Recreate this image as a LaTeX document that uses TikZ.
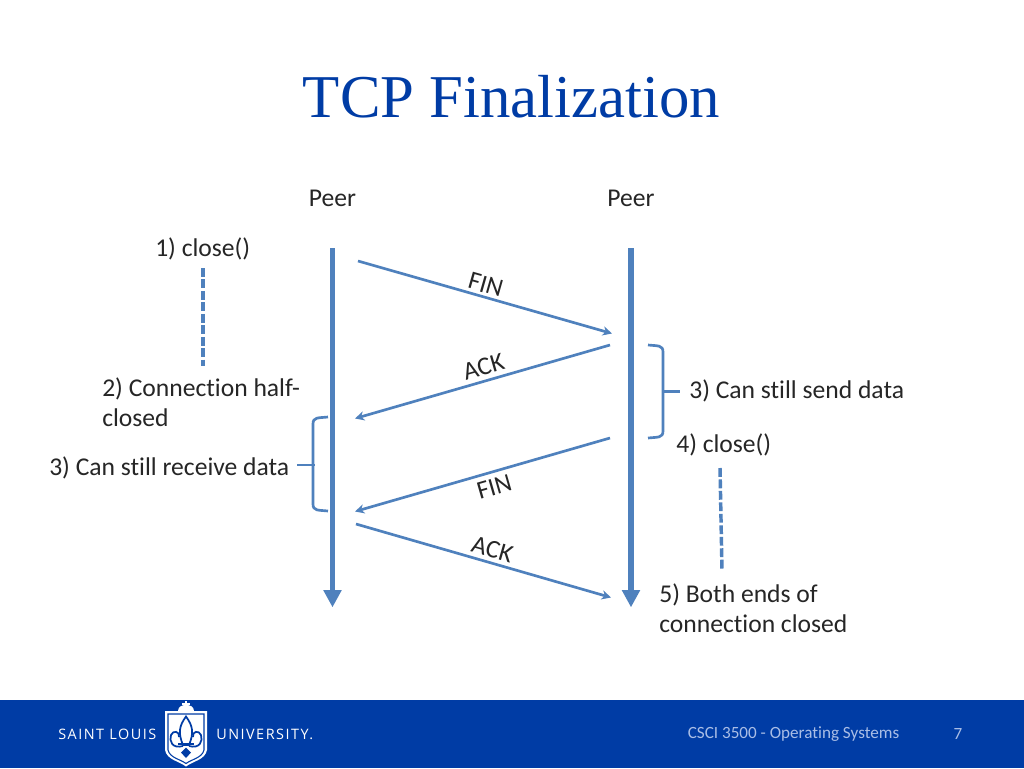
\documentclass[tikz,border=0pt]{standalone}
\usepackage{fontspec}
\setmainfont[Ligatures=NoCommon]{Carlito}
\newfontfamily\titlefont{Liberation Serif}
\newfontfamily\logofont[LetterSpace=10.5]{Open Sans}
\usetikzlibrary{arrows.meta, positioning, calc}
\definecolor{slublue}{RGB}{0, 60, 165}
\definecolor{linkblue}{RGB}{79, 129, 189}
\definecolor{footgray}{RGB}{170, 190, 230}
\tikzset{
  txt/.style={inner sep=0pt, anchor=west, text=black!85, font=\fontsize{19.2pt}{22.5pt}\selectfont, align=left},
  seg/.style={inner sep=0pt, text=black!85, font=\fontsize{19.2pt}{20pt}\selectfont},
  timeline/.style={draw=linkblue, line width=4.4pt, -{Triangle[length=13pt, width=13pt]}, shorten >=-1pt},
  msg/.style={draw=linkblue, line width=2pt, -{Stealth[length=7pt, width=7pt]}},
  wait/.style={draw=linkblue, line width=2.6pt, dash pattern=on 6.6pt off 2pt},
  brace/.style={draw=linkblue, line width=2pt},
  logotxt/.style={inner sep=0pt, text=white, font=\logofont\fontsize{10.8pt}{12pt}\selectfont},
  foot/.style={inner sep=0pt, text=footgray, font=\fontsize{12.85pt}{15pt}\selectfont},
  crest/.style={draw=slublue, line width=1.3pt}
}
\begin{document}
\begin{tikzpicture}[x=0.75pt, y=-0.75pt]
  \useasboundingbox (0,0) rectangle (1024,768);
  \fill[white] (0,0) rectangle (1024,768);
  \fill[slublue] (0,700) rectangle (1024,768);

  % title and peers
  \node[inner sep=0pt, text=slublue, font=\titlefont\fontsize{45.6pt}{50pt}\selectfont] (title) at (511.5,97) {TCP Finalization};
  \node[seg] (peerL) at (332.5,198) {Peer};
  \node[seg] (peerR) at (631,198) {Peer};

  % side labels
  \node[txt] (close1) at (155,249) {1) close()};
  \node[txt] (half) at (102,402) {2) Connection half-\\closed};
  \node[txt] (recv) at (49,468) {3) Can still receive data};
  \node[txt] (send) at (689,391) {3) Can still send data};
  \node[txt] (close2) at (676,445) {4) close()};
  \node[txt] (both) at (659,608.5) {5) Both ends of\\connection closed};

  % end points
  \coordinate (topL) at (332.5,248);
  \coordinate (botL) at (332.5,606);
  \coordinate (topR) at (631,248);
  \coordinate (botR) at (631,606);
  \coordinate (fin1a) at (358,261);
  \coordinate (fin1b) at (612,333.5);
  \coordinate (ack1a) at (610,345);
  \coordinate (ack1b) at (355,418.5);
  \coordinate (fin2a) at (610,438);
  \coordinate (fin2b) at (355,511.5);
  \coordinate (ack2a) at (356,524);
  \coordinate (ack2b) at (611,597.5);
  \coordinate (waitLa) at (203,268);
  \coordinate (waitLb) at (203,366);
  \coordinate (waitRa) at (720,468);
  \coordinate (waitRb) at (722,570);

  \draw[timeline] (topL) -- (botL);
  \draw[timeline] (topR) -- (botR);
  \draw[msg] (fin1a) -- (fin1b) node[pos=0.49, sloped, above=2pt, seg] (fin1) {FIN};
  \draw[msg] (ack1a) -- (ack1b) node[pos=0.48, sloped, above=3.5pt, seg] (ack1) {ACK};
  \draw[msg] (fin2a) -- (fin2b) node[pos=0.47, sloped, below=4pt, seg] (fin2) {FIN};
  \draw[msg] (ack2a) -- (ack2b) node[pos=0.52, sloped, above=3pt, seg] (ack2) {ACK};
  \draw[wait] (waitLa) -- (waitLb);
  \draw[wait] (waitRa) -- (waitRb);

  % braces
  \draw[brace] (328,417) .. controls (318,418) and (313,417) .. (313,424) -- (313,504) .. controls (313,511) and (318,510) .. (328,511);
  \draw[brace] (297,465) -- (315,465);
  \draw[brace] (648,345) .. controls (658,346) and (663,345) .. (663,352) -- (663,431) .. controls (663,438) and (658,437) .. (648,438);
  \draw[brace] (662,391.5) -- (680,391.5);

  % footer
  \node[logotxt, anchor=west] (slu) at (58,734) {SAINT LOUIS};
  \node[logotxt, anchor=west] (univ) at (216,734) {UNIVERSITY.};
  \fill[white] (165,711) -- (207,711) -- (207,750) .. controls (205,760) and (193,761) .. (186,766.5) .. controls (179,761) and (167,760) .. (165,750) -- cycle;
  \draw[slublue, line width=0.8pt] (168,714) -- (204,714) -- (204,750) .. controls (202,758) and (192,759) .. (186,763.5) .. controls (180,759) and (170,758) .. (168,750) -- cycle;
  \fill[white] (178,711) .. controls (178,706) and (183,705) .. (186,705) .. controls (189,705) and (194,706) .. (194,711) -- cycle;
  \draw[white, line width=1.5pt] (186,701) -- (186,708) (182,704) -- (190,704);
  \draw[crest] (186,716.5) .. controls (179,726) and (178,733) .. (183,745) -- (189,745) .. controls (194,733) and (193,726) .. (186,716.5) -- cycle;
  \draw[crest] (178,744) -- (194,744);
  \draw[crest] (183,746) .. controls (172,749) and (169,741) .. (171,735) .. controls (173,730) and (180,731) .. (179,737);
  \draw[crest] (189,746) .. controls (200,749) and (203,741) .. (201,735) .. controls (199,730) and (192,731) .. (193,737);
  \fill[slublue] (186,747.5) -- (191,752.5) -- (186,758) -- (181,752.5) -- cycle;
  \node[foot] (course) at (793.5,734) {CSCI 3500 - Operating Systems};
  \node[foot] (page) at (958,734) {7};
\end{tikzpicture}
\end{document}
